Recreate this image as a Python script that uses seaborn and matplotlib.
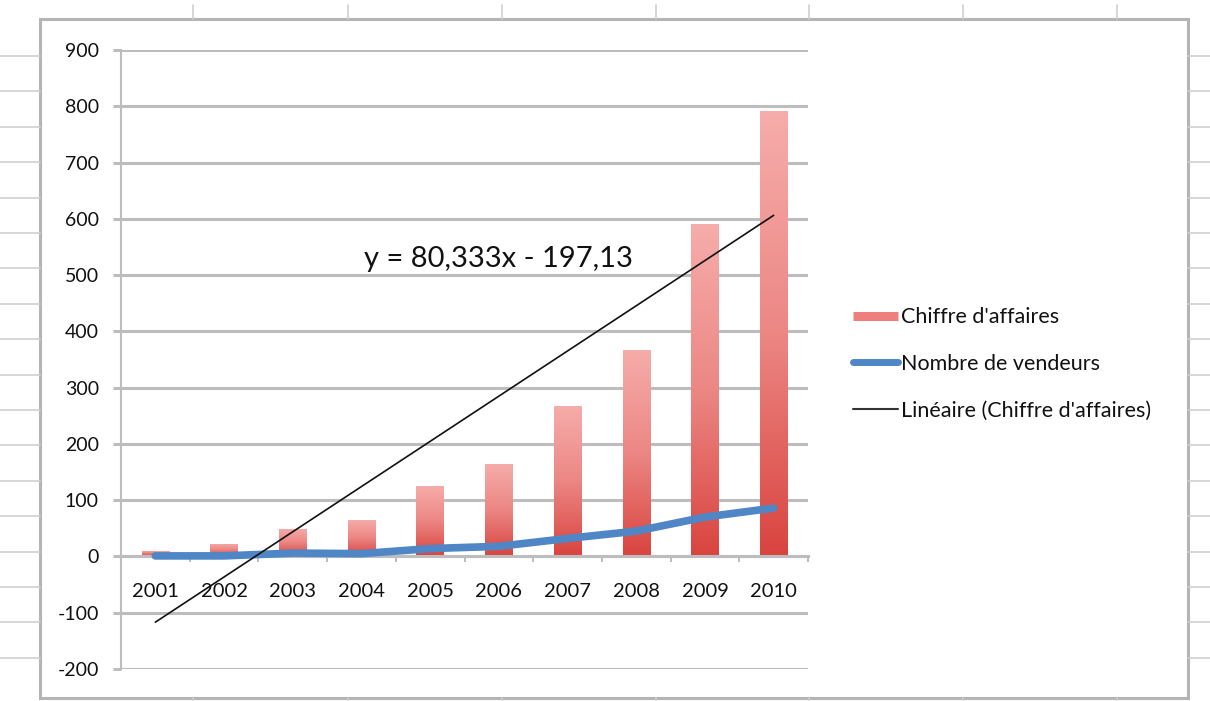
import numpy as np
import pandas as pd
import matplotlib
matplotlib.use("Agg")
import matplotlib.pyplot as plt
from matplotlib.colors import LinearSegmentedColormap
from matplotlib.lines import Line2D
from matplotlib.patches import Rectangle
import seaborn as sns

# --- data ---
years = ["2001", "2002", "2003", "2004", "2005", "2006", "2007", "2008", "2009", "2010"]
chiffre_affaires = [10, 23, 48, 65, 125, 164, 267, 367, 590, 792]
nombre_vendeurs = [1, 1, 6, 5, 14, 18, 32, 45, 70, 86]
trend_slope = 80.333
trend_intercept = -197.13
y_ticks = [-200, -100, 0, 100, 200, 300, 400, 500, 600, 700, 800, 900]
series_labels = ["Chiffre d'affaires", "Nombre de vendeurs", "Linéaire (Chiffre d'affaires)"]

sns.set_theme(style="white")
plt.rcParams["font.family"] = ["Lato", "DejaVu Sans"]

W, H = 1210, 701
fig = plt.figure(figsize=(W / 100, H / 100), dpi=100)
fig.patch.set_facecolor("white")


def fx(px):
    return px / W


def fy(py):
    return 1 - py / H


# spreadsheet cell grid around the chart object
cell_col = "#cfcfcf"
row_ys = [56 + 35.4 * k for k in range(18)]
for ry in row_ys:
    fig.add_artist(Line2D([fx(0), fx(40)], [fy(ry), fy(ry)], transform=fig.transFigure,
                          color=cell_col, lw=1.2))
    fig.add_artist(Line2D([fx(1188), fx(1210)], [fy(ry), fy(ry)], transform=fig.transFigure,
                          color=cell_col, lw=1.2))
for cx in [193, 348, 502, 656, 809, 963, 1117]:
    fig.add_artist(Line2D([fx(cx), fx(cx)], [fy(5), fy(19)], transform=fig.transFigure,
                          color=cell_col, lw=1.2))
    fig.add_artist(Line2D([fx(cx), fx(cx)], [fy(698), fy(701)], transform=fig.transFigure,
                          color=cell_col, lw=1.2))

# chart object frame
fig.add_artist(Rectangle((fx(40), fy(698)), fx(1188) - fx(40), fy(19) - fy(698),
                         transform=fig.transFigure, facecolor="white",
                         edgecolor="#b4b4b4", lw=2.2, zorder=0))

ax = fig.add_axes([fx(121), fy(669), fx(808) - fx(121), fy(50) - fy(669)])
ax.set_facecolor("none")

df = pd.DataFrame({"annee": years, "ca": chiffre_affaires, "vendeurs": nombre_vendeurs})
df["pos"] = np.arange(len(df))

grid_col = "#bdbdbd"
text_col = "#111111"

# bars with a vertical gradient fill
sns.barplot(data=df, x="annee", y="ca", width=0.4, color="#e8706c", ax=ax,
            zorder=2, saturation=1)
cmap = LinearSegmentedColormap.from_list("ca_grad", ["#d9443f", "#ec8784", "#f6adab"])
grad = np.linspace(0, 1, 256).reshape(-1, 1)
for patch in list(ax.patches):
    x0, y0 = patch.get_x(), patch.get_y()
    w, h = patch.get_width(), patch.get_height()
    im = ax.imshow(grad, extent=[x0, x0 + w, y0, y0 + h], origin="lower", cmap=cmap,
                   aspect="auto", zorder=2, interpolation="bilinear")
    im.set_clip_path(patch)
    patch.set_facecolor("none")
    patch.set_edgecolor("none")

# number of sellers
sns.lineplot(data=df, x="pos", y="vendeurs", color="#4f86c6", lw=5.5, ax=ax, zorder=3,
             solid_capstyle="round", solid_joinstyle="round")

# linear trend of the turnover (Excel x = 1..n)
trend_x = df["pos"].to_numpy()
trend_y = trend_slope * (trend_x + 1) + trend_intercept
ax.plot(trend_x, trend_y, color="#111111", lw=1.2, zorder=4)
eq = f"y = {trend_slope:.3f}x - {abs(trend_intercept):.2f}".replace(".", ",")
ax.text(5.0, 528, eq, ha="center", va="center", fontsize=21, color=text_col, zorder=5)

# axes styling
ax.set_xlim(-0.5, len(years) - 0.5)
ax.set_ylim(-200, 900)
ax.set_yticks(y_ticks)
ax.set_yticklabels([str(v) for v in y_ticks])
ax.set_xticks(df["pos"])
ax.set_xticklabels(years)
ax.set_xticks(np.arange(-0.5, len(years), 1.0), minor=True)
ax.set_xlabel("")
ax.set_ylabel("")
ax.yaxis.grid(True, color=grid_col, lw=2.2, zorder=0)
ax.set_axisbelow(True)
for s in ["top", "right"]:
    ax.spines[s].set_visible(False)
ax.spines["left"].set_color(grid_col)
ax.spines["left"].set_linewidth(1.5)
ax.spines["bottom"].set_position(("data", 0))
ax.spines["bottom"].set_color(grid_col)
ax.spines["bottom"].set_linewidth(2.2)
ax.tick_params(axis="y", which="major", direction="out", length=6, width=2.2,
               color=grid_col, pad=10, labelsize=14, labelcolor=text_col, left=True)
ax.tick_params(axis="x", which="major", length=0, pad=19, labelsize=14.5, labelcolor=text_col)
ax.tick_params(axis="x", which="minor", direction="out", length=4, width=1.4,
               color=grid_col, bottom=True)

# legend
handles = [
    Line2D([0], [0], color="#ee7f7c", lw=6.5, solid_capstyle="butt"),
    Line2D([0], [0], color="#4f86c6", lw=5, solid_capstyle="round"),
    Line2D([0], [0], color="#333333", lw=1.5),
]
leg = ax.legend(handles, series_labels, loc="center left",
                bbox_to_anchor=(fx(853), fy(364)), bbox_transform=fig.transFigure,
                frameon=False, fontsize=15.5, handlelength=2.1, handletextpad=0.12,
                labelspacing=1.25, borderpad=0, borderaxespad=0)
for t in leg.get_texts():
    t.set_color(text_col)

fig.savefig("out.png", dpi=100, facecolor="white")
